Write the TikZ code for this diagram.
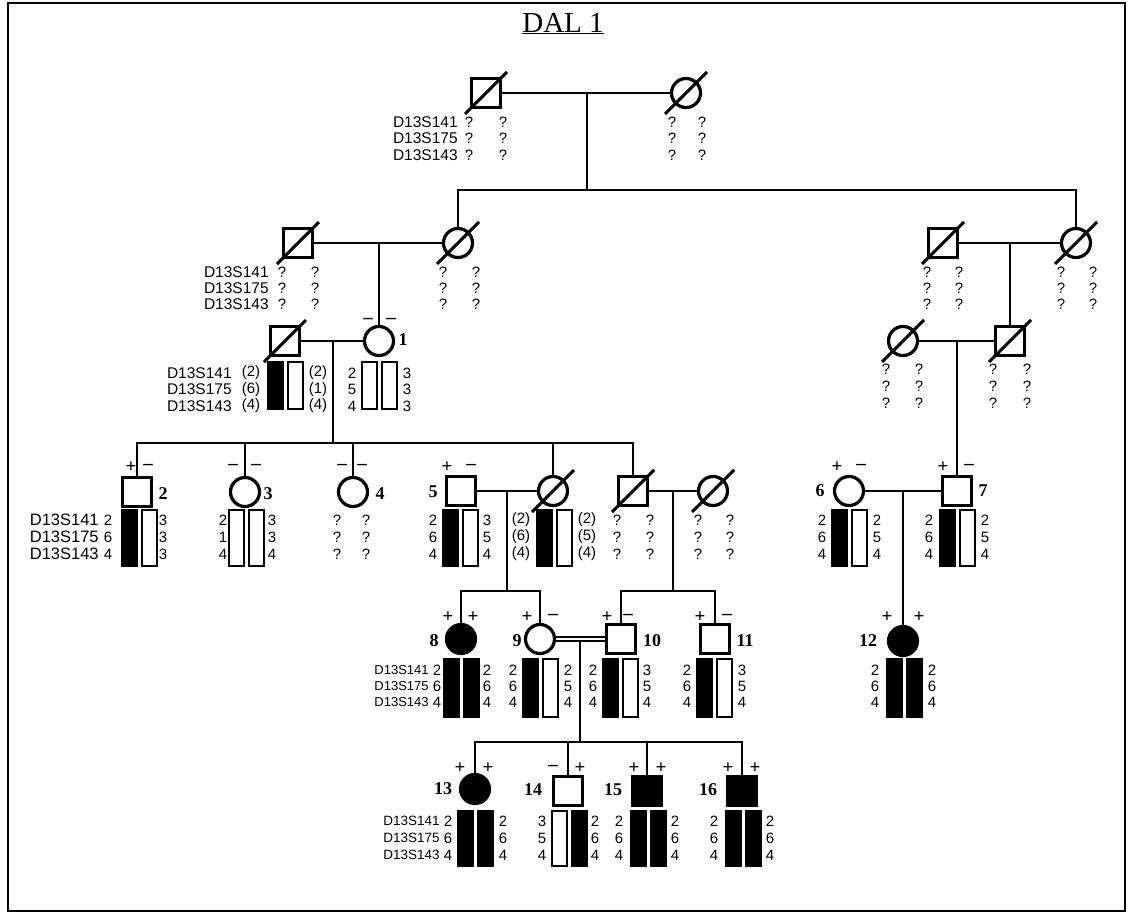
\documentclass[tikz,border=0pt]{standalone}
\usepackage{fontspec}
\setmainfont{Liberation Serif}
\newfontfamily\af{Liberation Sans}
\usetikzlibrary{calc}
\newcommand\dec[1]{\draw[slash] ($(#1)+(-21,21)$) -- ($(#1)+(21,-21)$);}
\newcommand\hbars[5]{\draw[bar,fill=#4] (#1-17,#2) rectangle (#1-2,#2+#3);\draw[bar,fill=#5] (#1+3,#2) rectangle (#1+18,#2+#3);}
\newcommand\vcol[5]{\foreach \vx [count=\i] in {#5}{\node[val] (#1\i) at (#2,{#3+(\i-1)*#4}) {\vx};}}
\newcommand\mks[5]{\node[mk,font=\af\fontsize{#5}{#5}\selectfont] (#1a) at (#2,#3) {D13S141};\node[mk,font=\af\fontsize{#5}{#5}\selectfont] (#1b) at (#2,{#3+#4}) {D13S175};\node[mk,font=\af\fontsize{#5}{#5}\selectfont] (#1c) at (#2,{#3+2*#4}) {D13S143};}
\newcommand\pmk[6]{\node[pm] (#1l) at (#2,#4) {#5};\node[pm] (#1r) at (#3,#4) {#6};}
\begin{document}
\begin{tikzpicture}[x=1pt,y=-1pt,line width=2.7pt,line cap=rect,
 sym/.style={draw,line width=3.2pt,inner sep=0pt,minimum size=29pt,line cap=butt},
 sq/.style={sym,rectangle},
 ci/.style={sym,circle},
 aff/.style={fill=black},
 bar/.style={line width=1.5pt,line cap=butt},
 val/.style={font=\af\fontsize{15}{15}\selectfont,inner sep=0pt},
 mk/.style={inner sep=0pt,anchor=east},
 num/.style={font=\bfseries\fontsize{18}{18}\selectfont,inner sep=0pt},
 pm/.style={font=\bfseries\fontsize{19}{19}\selectfont,inner sep=0pt},
 slash/.style={line width=3pt,line cap=butt},
 dbl/.style={double=white,double distance=2.6pt,line width=2pt,line cap=butt}]
\useasboundingbox (0,0) rectangle (1128,913);
\draw[line width=1.8pt] (8,3) rectangle (1125,911);
\node[font=\fontsize{29}{29}\selectfont,anchor=base,inner sep=0pt] (title) at (563,32) {\underline{DAL 1}};
% ---------- individuals
\node[sq] (g1m) at (486,93) {};
\node[ci] (g1f) at (686,93) {};
\node[sq] (g2a) at (298,243) {};
\node[ci] (g2b) at (458,243) {};
\node[sq] (g2c) at (943,243) {};
\node[ci] (g2d) at (1076,243) {};
\node[sq] (g3a) at (285,341) {};
\node[ci] (p1) at (379,341) {};
\node[ci] (g3c) at (903,341) {};
\node[sq] (g3d) at (1010,341) {};
\node[sq] (p2) at (137,492) {};
\node[ci] (p3) at (245,492) {};
\node[ci] (p4) at (353,492) {};
\node[sq] (p5) at (461,491) {};
\node[ci] (g4a) at (553,491) {};
\node[sq] (g4b) at (633,491) {};
\node[ci] (g4c) at (713,491) {};
\node[ci] (p6) at (849,491) {};
\node[sq] (p7) at (957,491) {};
\node[ci,aff] (p8) at (461,639) {};
\node[ci] (p9) at (540,639) {};
\node[sq] (p10) at (621,639) {};
\node[sq] (p11) at (715,639) {};
\node[ci,aff] (p12) at (903,641) {};
\node[ci,aff] (p13) at (475,789) {};
\node[sq] (p14) at (568,791) {};
\node[sq,aff] (p15) at (647,791) {};
\node[sq,aff] (p16) at (742,791) {};
\foreach \n in {g1m,g1f,g2a,g2b,g2c,g2d,g3a,g3c,g3d,g4a,g4b,g4c} {\dec{\n}}
% ---------- connectors
\coordinate (c1) at (587,93); \coordinate (s1) at (587,190);
\draw (g1m) -- (g1f);
\draw (c1) -- (s1);
\draw (g2b |- s1) -- (g2d |- s1);
\draw (g2b |- s1) -- (g2b);
\draw (g2d |- s1) -- (g2d);
\draw (g2a) -- (g2b);
\coordinate (c2) at (379,243); \draw (c2) -- (p1);
\draw (g2c) -- (g2d);
\coordinate (c3) at (1010,243); \draw (c3) -- (g3d);
\draw (g3a) -- (p1);
\coordinate (c4) at (333,341); \coordinate (s4) at (333,443);
\draw (c4) -- (s4);
\draw (p2 |- s4) -- (g4b |- s4);
\foreach \n in {p2,p3,p4,g4a,g4b} {\draw (\n |- s4) -- (\n);}
\draw (g3c) -- (g3d);
\coordinate (c5) at (957,341); \draw (c5) -- (p7);
\draw (p5) -- (g4a);
\coordinate (c6) at (507,491); \coordinate (s6) at (507,591);
\draw (c6) -- (s6);
\draw (p8 |- s6) -- (p9 |- s6);
\foreach \n in {p8,p9} {\draw (\n |- s6) -- (\n);}
\draw (g4b) -- (g4c);
\coordinate (c7) at (673,491); \coordinate (s7) at (673,591);
\draw (c7) -- (s7);
\draw (p10 |- s7) -- (p11 |- s7);
\foreach \n in {p10,p11} {\draw (\n |- s7) -- (\n);}
\draw (p6) -- (p7);
\coordinate (c8) at (903,491); \draw (c8) -- (p12);
\draw[dbl] (p9) -- (p10);
\coordinate (c9) at (580,642); \coordinate (s9) at (580,742);
\draw (c9) -- (s9);
\draw (p13 |- s9) -- (p16 |- s9);
\foreach \n in {p13,p14,p15,p16} {\draw (\n |- s9) -- (\n);}
% ---------- Gen I texts
\mks{m1}{459}{122}{16.5}{15.5}
\vcol{qa}{469}{122}{16.5}{?,?,?}
\vcol{qb}{503}{122}{16.5}{?,?,?}
\vcol{qc}{672}{122}{16.5}{?,?,?}
\vcol{qd}{702}{122}{16.5}{?,?,?}
% ---------- Gen II texts
\mks{m2}{270}{272}{16}{15.5}
\vcol{qe}{282}{272}{16}{?,?,?}
\vcol{qf}{315}{272}{16}{?,?,?}
\vcol{qg}{443}{272}{16}{?,?,?}
\vcol{qh}{476}{272}{16}{?,?,?}
\vcol{qi}{927}{272}{16}{?,?,?}
\vcol{qj}{959}{272}{16}{?,?,?}
\vcol{qk}{1061}{272}{16}{?,?,?}
\vcol{ql}{1093}{272}{16}{?,?,?}
% ---------- Gen III texts
\mks{m3}{233}{373}{16.5}{15.5}
\vcol{g3al}{251}{373}{16.5}{{(2)},{(6)},{(4)}}
\hbars{285}{362}{47}{black}{white}
\vcol{g3ar}{318}{373}{16.5}{{(2)},{(1)},{(4)}}
\vcol{p1l}{352}{373}{16.5}{2,5,4}
\hbars{379}{362}{47}{white}{white}
\vcol{p1r}{407}{373}{16.5}{3,3,3}
\pmk{pm1}{368}{391}{321}{--}{--}
\node[num] (n1) at (403,340) {1};
\vcol{qm}{886}{369}{17}{?,?,?}
\vcol{qn}{919}{369}{17}{?,?,?}
\vcol{qo}{993}{369}{17}{?,?,?}
\vcol{qp}{1027}{369}{17}{?,?,?}
% ---------- Gen IV texts
\mks{m4}{100}{520}{17}{16.5}
\vcol{p2l}{108}{520}{17}{2,6,4}
\hbars{139}{510}{56}{black}{white}
\vcol{p2r}{163}{520}{17}{3,3,3}
\vcol{p3l}{223}{520}{17}{2,1,4}
\hbars{246}{510}{56}{white}{white}
\vcol{p3r}{272}{520}{17}{3,3,4}
\vcol{qq}{337}{520}{17}{?,?,?}
\vcol{qr}{366}{520}{17}{?,?,?}
\vcol{p5l}{433}{520}{17}{2,6,4}
\hbars{460}{510}{56}{black}{white}
\vcol{p5r}{487}{520}{17}{3,5,4}
\vcol{g4al}{521}{520}{17}{{(2)},{(6)},{(4)}}
\hbars{554}{510}{56}{black}{white}
\vcol{g4ar}{587}{520}{17}{{(2)},{(5)},{(4)}}
\vcol{qs}{617}{520}{17}{?,?,?}
\vcol{qt}{650}{520}{17}{?,?,?}
\vcol{qu}{698}{520}{17}{?,?,?}
\vcol{qv}{730}{520}{17}{?,?,?}
\vcol{p6l}{822}{520}{17}{2,6,4}
\hbars{849}{510}{56}{black}{white}
\vcol{p6r}{877}{520}{17}{2,5,4}
\vcol{p7l}{929}{520}{17}{2,6,4}
\hbars{957}{510}{56}{black}{white}
\vcol{p7r}{985}{520}{17}{2,5,4}
\pmk{pm2}{131}{148}{467}{+}{--}
\pmk{pm3}{233}{256}{467}{--}{--}
\pmk{pm4}{342}{362}{467}{--}{--}
\pmk{pm5}{447}{471}{467}{+}{--}
\pmk{pm6}{837}{861}{467}{+}{--}
\pmk{pm7}{943}{969}{467}{+}{--}
\node[num] (n2) at (163,494) {2};
\node[num] (n3) at (268,494) {3};
\node[num] (n4) at (380,494) {4};
\node[num] (n5) at (433,492) {5};
\node[num] (n6) at (820,491) {6};
\node[num] (n7) at (983,491) {7};
% ---------- Gen V texts
\mks{m5}{430}{670}{16}{13}
\vcol{p8l}{437}{670}{16}{2,6,4}
\hbars{461}{659}{58}{black}{black}
\vcol{p8r}{487}{670}{16}{2,6,4}
\vcol{p9l}{513}{670}{16}{2,6,4}
\hbars{540}{659}{58}{black}{white}
\vcol{p9r}{568}{670}{16}{2,5,4}
\vcol{p10l}{593}{670}{16}{2,6,4}
\hbars{620}{659}{58}{black}{white}
\vcol{p10r}{647}{670}{16}{3,5,4}
\vcol{p11l}{687}{670}{16}{2,6,4}
\hbars{714}{659}{58}{black}{white}
\vcol{p11r}{742}{670}{16}{3,5,4}
\vcol{p12l}{875}{670}{16}{2,6,4}
\hbars{904}{659}{58}{black}{black}
\vcol{p12r}{932}{670}{16}{2,6,4}
\pmk{pm8}{448}{473}{617}{+}{+}
\pmk{pm9}{527}{553}{617}{+}{--}
\pmk{pm10}{607}{628}{617}{+}{--}
\pmk{pm11}{700}{727}{617}{+}{--}
\pmk{pm12}{887}{919}{617}{+}{+}
\node[num] (n8) at (434,641) {8};
\node[num] (n9) at (517,641) {9};
\node[num] (n10) at (652,641) {10};
\node[num] (n11) at (745,641) {11};
\node[num] (n12) at (868,641) {12};
% ---------- Gen VI texts
\mks{m6}{441}{821}{17}{13.5}
\vcol{p13l}{448}{821}{17}{2,6,4}
\hbars{475}{811}{55}{black}{black}
\vcol{p13r}{503}{821}{17}{2,6,4}
\vcol{p14l}{542}{821}{17}{3,5,4}
\hbars{569}{811}{55}{white}{black}
\vcol{p14r}{595}{821}{17}{2,6,4}
\vcol{p15l}{619}{821}{17}{2,6,4}
\hbars{648}{811}{55}{black}{black}
\vcol{p15r}{675}{821}{17}{2,6,4}
\vcol{p16l}{714}{821}{17}{2,6,4}
\hbars{743}{811}{55}{black}{black}
\vcol{p16r}{770}{821}{17}{2,6,4}
\pmk{pm13}{460}{488}{768}{+}{+}
\pmk{pm14}{553}{580}{768}{--}{+}
\pmk{pm15}{634}{661}{768}{+}{+}
\pmk{pm16}{728}{755}{768}{+}{+}
\node[num] (n13) at (443,789) {13};
\node[num] (n14) at (533,790) {14};
\node[num] (n15) at (613,790) {15};
\node[num] (n16) at (708,790) {16};
\end{tikzpicture}
\end{document}
